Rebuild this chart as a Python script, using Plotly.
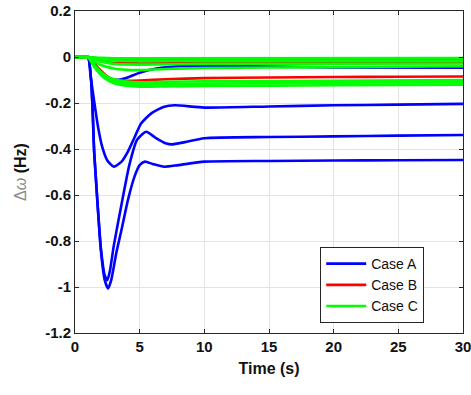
import plotly.graph_objects as go

# ---- data ----
# Case A (blue)
a1_t = [0, 0.5, 1.0, 1.5, 2.0, 2.3, 2.56, 2.8, 3.2, 3.6, 4.1, 4.6, 5.0, 5.4, 6.0, 6.9, 8.0, 10, 15, 20, 25, 30]
a1_v = [0, 0, 0, -0.43, -0.84, -0.97, -1.006, -0.97, -0.85, -0.75, -0.62, -0.52, -0.47, -0.455, -0.465, -0.477, -0.47, -0.455, -0.452, -0.45, -0.449, -0.448]
a2_t = [0, 0.5, 1.0, 1.5, 2.0, 2.3, 2.5, 2.7, 3.0, 3.6, 4.2, 4.8, 5.5, 6.2, 7.0, 7.5, 8.5, 10, 15, 20, 25, 30]
a2_v = [0, 0, 0, -0.43, -0.83, -0.95, -0.97, -0.93, -0.82, -0.64, -0.47, -0.36, -0.325, -0.35, -0.375, -0.38, -0.37, -0.353, -0.348, -0.345, -0.342, -0.339]
a3_t = [0, 0.5, 1.0, 1.2, 1.5, 1.8, 2.1, 2.5, 3.0, 3.6, 4.1, 4.6, 5.1, 5.9, 6.9, 7.7, 10, 15, 20, 25, 30]
a3_v = [0, 0, 0, -0.08, -0.2, -0.31, -0.39, -0.45, -0.477, -0.455, -0.41, -0.35, -0.29, -0.245, -0.216, -0.21, -0.22, -0.215, -0.21, -0.207, -0.204]
a4_t = [0, 0.5, 1.0, 1.5, 2.0, 2.5, 3.2, 4.0, 5.0, 6.3, 8.0, 10, 15, 20, 30]
a4_v = [0, 0, 0, -0.03, -0.07, -0.09, -0.1, -0.09, -0.068, -0.05, -0.04, -0.038, -0.042, -0.045, -0.046]

# Case B (red)
b1_t = [0, 0.5, 1.0, 1.5, 2.0, 2.5, 3.0, 4.0, 5.0, 7.0, 10, 15, 20, 25, 30]
b1_v = [0, 0, 0, -0.03, -0.06, -0.085, -0.098, -0.103, -0.102, -0.097, -0.092, -0.089, -0.087, -0.086, -0.085]
b2_t = [0, 0.5, 1.0, 2.0, 3.0, 5.0, 10, 30]
b2_v = [0, 0, 0, -0.008, -0.012, -0.014, -0.013, -0.012]
b3_t = [0, 0.5, 1.0, 2.0, 3.0, 5.0, 10, 30]
b3_v = [0, 0, 0, -0.018, -0.026, -0.028, -0.027, -0.026]

# Case C (green)
c1_t = [0, 0.5, 1.0, 2.0, 3.0, 30]
c1_v = [0, 0, 0, -0.004, -0.006, -0.005]
c2_t = [0, 0.5, 1.0, 2.0, 3.0, 5.0, 10, 30]
c2_v = [0, 0, 0, -0.01, -0.015, -0.018, -0.017, -0.016]
c3_t = [0, 0.5, 1.0, 2.0, 3.0, 5.0, 10, 30]
c3_v = [0, 0, 0, -0.02, -0.03, -0.033, -0.03, -0.028]
c4_t = [0, 0.5, 1.0, 1.5, 2.0, 3.0, 4.0, 5.0, 7.0, 10, 20, 30]
c4_v = [0, 0, 0, -0.02, -0.035, -0.05, -0.056, -0.057, -0.052, -0.048, -0.044, -0.04]
c5_t = [0, 0.5, 1.0, 1.5, 2.0, 2.5, 3.0, 4.0, 5.0, 7.0, 10, 20, 30]
c5_v = [0, 0, 0, -0.035, -0.065, -0.085, -0.097, -0.107, -0.11, -0.108, -0.106, -0.103, -0.1]
c6_t = [0, 0.5, 1.0, 1.5, 2.0, 2.5, 3.0, 4.0, 5.0, 7.0, 10, 20, 30]
c6_v = [0, 0, 0, -0.04, -0.072, -0.093, -0.106, -0.117, -0.12, -0.118, -0.116, -0.112, -0.11]
c7_t = [0, 0.5, 1.0, 1.5, 2.0, 2.5, 3.0, 4.0, 5.0, 7.0, 10, 20, 30]
c7_v = [0, 0, 0, -0.045, -0.078, -0.1, -0.114, -0.125, -0.129, -0.128, -0.126, -0.123, -0.12]

x_ticks = [0, 5, 10, 15, 20, 25, 30]
y_ticks = [0.2, 0, -0.2, -0.4, -0.6, -0.8, -1, -1.2]
y_tick_labels = ["0.2", "0", "-0.2", "-0.4", "-0.6", "-0.8", "-1", "-1.2"]

groups = [
    ("Case A", "#0000FF", [(a1_t, a1_v), (a2_t, a2_v), (a3_t, a3_v), (a4_t, a4_v)]),
    ("Case B", "#FF0000", [(b1_t, b1_v), (b2_t, b2_v), (b3_t, b3_v)]),
    ("Case C", "#00FF00", [(c1_t, c1_v), (c2_t, c2_v), (c3_t, c3_v), (c4_t, c4_v),
                           (c5_t, c5_v), (c6_t, c6_v), (c7_t, c7_v)]),
]

fig = go.Figure()
for name, color, series in groups:
    for i, (t, v) in enumerate(series):
        fig.add_trace(go.Scatter(
            x=t, y=v, mode="lines", name=name, legendgroup=name,
            showlegend=(i == 0), cliponaxis=False,
            line=dict(color=color, width=2.6, shape="spline", smoothing=0.6),
        ))

axis_font = dict(family="Liberation Sans, Arial", size=15, color="#111111")
fig.update_layout(
    width=471, height=395,
    margin=dict(l=75, r=8, t=11, b=62, autoexpand=False),
    paper_bgcolor="white", plot_bgcolor="white",
    font=dict(family="Liberation Sans, Arial", color="#111111"),
    showlegend=True,
    legend=dict(
        x=0.632, y=0.267, xanchor="left", yanchor="top",
        bgcolor="white", bordercolor="#262626", borderwidth=1,
        font=dict(family="Liberation Sans, Arial", size=14, color="#111111"),
        tracegroupgap=0, itemwidth=40,
    ),
    xaxis=dict(
        range=[0, 30], tickvals=x_ticks, ticktext=[f"<b>{v}</b>" for v in x_ticks],
        showgrid=True, gridcolor="#E3E3E3", gridwidth=1,
        showline=True, linecolor="#262626", linewidth=1, mirror="ticks",
        ticks="inside", ticklen=4, tickcolor="#262626",
        tickfont=axis_font, zeroline=False, automargin=False,
        ticklabeloverflow="allow",
        title=dict(text="<b>Time (s)</b>", font=dict(family="Liberation Sans, Arial", size=16, color="#111111"), standoff=8),
    ),
    yaxis=dict(
        range=[-1.2, 0.2], tickvals=y_ticks, ticktext=[f"<b>{s}</b>" for s in y_tick_labels],
        showgrid=True, gridcolor="#E3E3E3", gridwidth=1,
        showline=True, linecolor="#262626", linewidth=1, mirror="ticks",
        ticks="inside", ticklen=4, tickcolor="#262626",
        tickfont=axis_font, zeroline=False, automargin=False,
        ticklabeloverflow="allow",
        title=dict(text="<span style='color:#8a8a8a'>Δ<i>ω</i></span> <b>(Hz)</b>",
                   font=dict(family="Liberation Sans, Arial", size=16, color="#111111"), standoff=14),
    ),
)

fig.write_html("out.html", config={"displayModeBar": False},
               post_script="document.body.style.margin='0';document.body.style.overflow='hidden';")
